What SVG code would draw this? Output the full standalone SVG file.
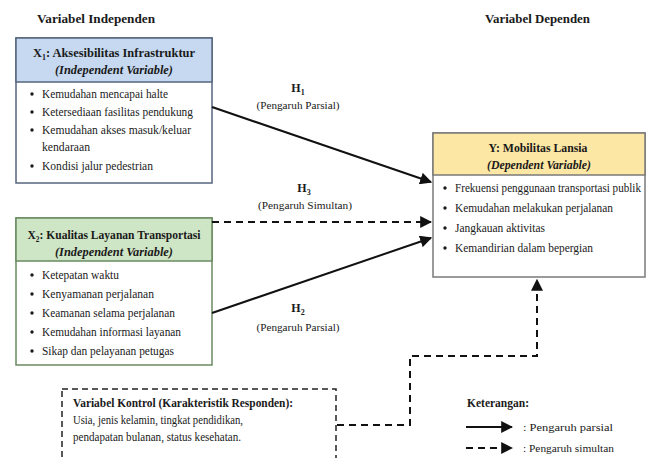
<svg xmlns="http://www.w3.org/2000/svg" width="649" height="458" viewBox="0 0 649 458" font-family="'Liberation Serif', 'Times New Roman', 'DejaVu Serif', serif">
<defs>
<style>
text{font-family:'Liberation Serif','Times New Roman','DejaVu Serif',serif;fill:#1a1a1a}
.title{font-size:13px;font-weight:bold}
.hd{font-size:12.5px;font-weight:bold;text-anchor:middle}
.hi{font-size:12px;font-weight:bold;font-style:italic;text-anchor:middle}
.it{font-size:11.5px}
.lb{font-size:11px;text-anchor:middle}
.ls{font-size:11px}
.lh{font-size:12px;font-weight:bold;text-anchor:middle}
.sub{font-size:8px}
.solid{stroke:#111;stroke-width:2;fill:none}
.dash{stroke:#111;stroke-width:2;fill:none;stroke-dasharray:7,5}
.bul{fill:#1a1a1a}
</style>
<marker id="ah" viewBox="0 0 10 10" refX="9" refY="5" markerWidth="6" markerHeight="6" markerUnits="strokeWidth" orient="auto">
<path d="M0,0 L10,5 L0,10 z" fill="#111"/>
</marker>
</defs>
<rect width="649" height="458" fill="#ffffff"/>

<text class="title" x="37" y="23" textLength="118" lengthAdjust="spacingAndGlyphs">Variabel Independen</text>
<text class="title" x="485" y="23" textLength="105" lengthAdjust="spacingAndGlyphs">Variabel Dependen</text>

<g id="x1">
<rect x="16" y="38" width="196" height="145" fill="#ffffff" stroke="#55657e" stroke-width="1.5"/>
<rect x="16" y="38" width="196" height="44" fill="#c6d9f1" stroke="#55657e" stroke-width="1.5"/>
<text class="hd" x="114" y="57" textLength="162" lengthAdjust="spacingAndGlyphs">X<tspan class="sub" dy="3">1</tspan><tspan dy="-3">: Aksesibilitas Infrastruktur</tspan></text>
<text class="hi" x="114" y="74" textLength="118" lengthAdjust="spacingAndGlyphs">(Independent Variable)</text>
<circle class="bul" cx="32" cy="94" r="1.7"/><text class="it" x="42" y="98" textLength="126" lengthAdjust="spacingAndGlyphs">Kemudahan mencapai halte</text>
<circle class="bul" cx="32" cy="112" r="1.7"/><text class="it" x="42" y="116" textLength="151" lengthAdjust="spacingAndGlyphs">Ketersediaan fasilitas pendukung</text>
<circle class="bul" cx="32" cy="130" r="1.7"/><text class="it" x="42" y="134" textLength="149" lengthAdjust="spacingAndGlyphs">Kemudahan akses masuk/keluar</text>
<text class="it" x="42" y="151" textLength="48" lengthAdjust="spacingAndGlyphs">kendaraan</text>
<circle class="bul" cx="32" cy="166" r="1.7"/><text class="it" x="42" y="170" textLength="111" lengthAdjust="spacingAndGlyphs">Kondisi jalur pedestrian</text>
</g>

<g id="x2">
<rect x="16" y="218" width="196" height="147" fill="#ffffff" stroke="#6a8a60" stroke-width="1.5"/>
<rect x="16" y="218" width="196" height="43" fill="#cfe6c6" stroke="#6a8a60" stroke-width="1.5"/>
<text class="hd" x="114" y="239" textLength="173" lengthAdjust="spacingAndGlyphs">X<tspan class="sub" dy="3">2</tspan><tspan dy="-3">: Kualitas Layanan Transportasi</tspan></text>
<text class="hi" x="114" y="256" textLength="118" lengthAdjust="spacingAndGlyphs">(Independent Variable)</text>
<circle class="bul" cx="32" cy="275" r="1.7"/><text class="it" x="42" y="279" textLength="77" lengthAdjust="spacingAndGlyphs">Ketepatan waktu</text>
<circle class="bul" cx="32" cy="294" r="1.7"/><text class="it" x="42" y="298" textLength="112" lengthAdjust="spacingAndGlyphs">Kenyamanan perjalanan</text>
<circle class="bul" cx="32" cy="313" r="1.7"/><text class="it" x="42" y="317" textLength="133" lengthAdjust="spacingAndGlyphs">Keamanan selama perjalanan</text>
<circle class="bul" cx="32" cy="332" r="1.7"/><text class="it" x="42" y="336" textLength="139" lengthAdjust="spacingAndGlyphs">Kemudahan informasi layanan</text>
<circle class="bul" cx="32" cy="351" r="1.7"/><text class="it" x="42" y="355" textLength="132" lengthAdjust="spacingAndGlyphs">Sikap dan pelayanan petugas</text>
</g>

<g id="y">
<rect x="433" y="133" width="212" height="144" fill="#ffffff" stroke="#7a7a7a" stroke-width="1.5"/>
<rect x="433" y="133" width="212" height="42" fill="#fde7a4" stroke="#7a7a7a" stroke-width="1.5"/>
<text class="hd" x="538" y="152" textLength="99" lengthAdjust="spacingAndGlyphs">Y: Mobilitas Lansia</text>
<text class="hi" x="539" y="169" textLength="104" lengthAdjust="spacingAndGlyphs">(Dependent Variable)</text>
<circle class="bul" cx="445" cy="188" r="1.7"/><text class="it" x="455" y="192" textLength="186" lengthAdjust="spacingAndGlyphs">Frekuensi penggunaan transportasi publik</text>
<circle class="bul" cx="445" cy="208" r="1.7"/><text class="it" x="455" y="212" textLength="158" lengthAdjust="spacingAndGlyphs">Kemudahan melakukan perjalanan</text>
<circle class="bul" cx="445" cy="228" r="1.7"/><text class="it" x="455" y="232" textLength="90" lengthAdjust="spacingAndGlyphs">Jangkauan aktivitas</text>
<circle class="bul" cx="445" cy="248" r="1.7"/><text class="it" x="455" y="252" textLength="138" lengthAdjust="spacingAndGlyphs">Kemandirian dalam bepergian</text>
</g>

<g id="control">
<rect x="62" y="389" width="274" height="80" fill="none" stroke="#222" stroke-width="1.5" stroke-dasharray="6,4"/>
<text class="it" x="73" y="407" font-weight="bold" textLength="220" lengthAdjust="spacingAndGlyphs">Variabel Kontrol (Karakteristik Responden):</text>
<text class="it" x="73" y="424" textLength="170" lengthAdjust="spacingAndGlyphs">Usia, jenis kelamin, tingkat pendidikan,</text>
<text class="it" x="73" y="441" textLength="168" lengthAdjust="spacingAndGlyphs">pendapatan bulanan, status kesehatan.</text>
</g>

<g id="connectors">
<line class="solid" x1="212" y1="107" x2="431" y2="182" marker-end="url(#ah)"/>
<line class="dash" x1="212" y1="222" x2="431" y2="222" marker-end="url(#ah)"/>
<line class="solid" x1="212" y1="313" x2="431" y2="238" marker-end="url(#ah)"/>
<polyline class="dash" points="337,425 410,425 410,356 537,356 537,280" marker-end="url(#ah)"/>
</g>

<g id="labels">
<text class="lh" x="298" y="92">H<tspan class="sub" dy="3">1</tspan></text>
<text class="lb" x="298" y="109" textLength="83" lengthAdjust="spacingAndGlyphs">(Pengaruh Parsial)</text>
<text class="lh" x="304" y="192">H<tspan class="sub" dy="3">3</tspan></text>
<text class="lb" x="305" y="209" textLength="94" lengthAdjust="spacingAndGlyphs">(Pengaruh Simultan)</text>
<text class="lh" x="298" y="312">H<tspan class="sub" dy="3">2</tspan></text>
<text class="lb" x="298" y="331" textLength="83" lengthAdjust="spacingAndGlyphs">(Pengaruh Parsial)</text>
</g>

<g id="legend">
<text class="it" x="467" y="407" font-weight="bold" textLength="62" lengthAdjust="spacingAndGlyphs">Keterangan:</text>
<line class="solid" x1="466" y1="427" x2="512" y2="427" marker-end="url(#ah)"/>
<text class="ls" x="523" y="431" textLength="90" lengthAdjust="spacingAndGlyphs">: Pengaruh parsial</text>
<line class="dash" x1="466" y1="448" x2="512" y2="448" marker-end="url(#ah)"/>
<text class="ls" x="523" y="452" textLength="91" lengthAdjust="spacingAndGlyphs">: Pengaruh simultan</text>
</g>
</svg>
